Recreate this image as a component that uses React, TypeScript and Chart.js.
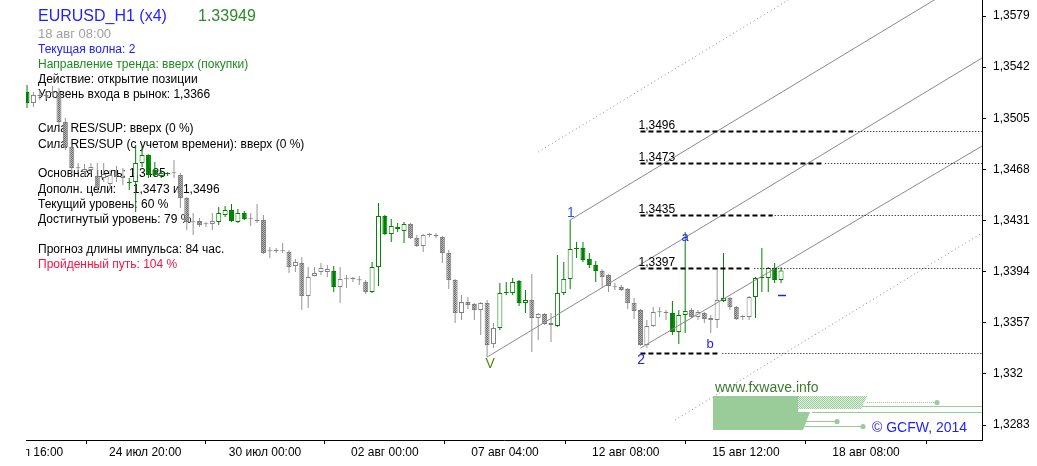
import React, { useEffect, useRef } from "react";
import { Chart, registerables } from "chart.js";

Chart.register(...registerables);

// ---------- DATA ----------
const timeLabels = ["21 июл 16:00", "24 июл 20:00", "30 июл 00:00", "02 авг 00:00", "07 авг 04:00", "12 авг 08:00", "15 авг 12:00", "18 авг 08:00"];
const timeTickBars = [0, 18.5, 37.25, 56, 74.8, 93.7, 112.5, 131.3];

const priceTicks = [1.3283, 1.332, 1.3357, 1.3394, 1.3431, 1.3468, 1.3505, 1.3542, 1.3579];
const priceTickLabels = ["1,3283", "1,332", "1,3357", "1,3394", "1,3431", "1,3468", "1,3505", "1,3542", "1,3579"];

const opens = [
  1.3524, 1.35161, 1.35219, 1.35211, 1.3524, 1.35233, 1.35023, 1.34842, 1.3469, 1.34661,
  1.34676, 1.34632, 1.34618, 1.34574, 1.34632, 1.34618, 1.34582, 1.34589, 1.34726, 1.34784,
  1.34676, 1.34632, 1.34647, 1.34654, 1.34639, 1.34473, 1.34299, 1.34307, 1.34285, 1.34285,
  1.34299, 1.3435, 1.34386, 1.34299, 1.34365, 1.34321, 1.34307, 1.34314, 1.34089, 1.34089,
  1.34089, 1.34082, 1.33981, 1.34003, 1.33764, 1.33909, 1.33938, 1.33938, 1.33945, 1.33829,
  1.33887, 1.33887, 1.3388, 1.33865, 1.33793, 1.33974, 1.34343, 1.34213, 1.34263, 1.34234,
  1.34285, 1.34184, 1.34126, 1.34205, 1.34205, 1.34191, 1.34075, 1.3388, 1.33641, 1.3372,
  1.33706, 1.33663, 1.33713, 1.33416, 1.33532, 1.33786, 1.33786, 1.33872, 1.33713, 1.33735,
  1.33605, 1.33634, 1.33568, 1.33547, 1.33786, 1.33887, 1.34104, 1.34111, 1.34032, 1.33988,
  1.33945, 1.33916, 1.33829, 1.33829, 1.33815, 1.33713, 1.33663, 1.33409, 1.33547, 1.33648,
  1.33641, 1.33641, 1.33503, 1.33626, 1.33663, 1.33612, 1.33641, 1.33605, 1.3359, 1.33728,
  1.33749, 1.33684, 1.33612, 1.33612, 1.33757, 1.33894, 1.33894, 1.33967, 1.3388,
];
const highs = [
  1.35291, 1.3524, 1.35255, 1.3524, 1.35284, 1.35269, 1.35052, 1.34857, 1.34726, 1.34719,
  1.34726, 1.34726, 1.34726, 1.34676, 1.34705, 1.3469, 1.34618, 1.34857, 1.34842, 1.3479,
  1.34734, 1.34676, 1.34661, 1.34748, 1.34654, 1.3448, 1.34365, 1.34328, 1.34299, 1.34365,
  1.34408, 1.34415, 1.3443, 1.34393, 1.34379, 1.34365, 1.3443, 1.3435, 1.34118, 1.34111,
  1.34147, 1.34097, 1.34032, 1.34046, 1.33974, 1.33974, 1.34003, 1.33988, 1.33981, 1.33974,
  1.33916, 1.33901, 1.33909, 1.3388, 1.3401, 1.34437, 1.3435, 1.34321, 1.34292, 1.34299,
  1.34292, 1.34205, 1.34213, 1.3422, 1.3422, 1.34198, 1.34097, 1.33887, 1.33771, 1.33757,
  1.33713, 1.3372, 1.33735, 1.33568, 1.33858, 1.33865, 1.33894, 1.3388, 1.33807, 1.33923,
  1.33641, 1.33641, 1.33641, 1.34061, 1.3401, 1.34314, 1.34155, 1.34155, 1.34075, 1.34017,
  1.33959, 1.33923, 1.33858, 1.33844, 1.33822, 1.33749, 1.3367, 1.3359, 1.33684, 1.33684,
  1.33663, 1.33728, 1.33663, 1.34227, 1.33677, 1.33663, 1.33648, 1.33626, 1.33967, 1.34075,
  1.33757, 1.33692, 1.33626, 1.33764, 1.33901, 1.34111, 1.33974, 1.34003, 1.33974,
];
const lows = [
  1.35124, 1.35132, 1.35182, 1.35189, 1.35204, 1.35001, 1.3482, 1.34661, 1.34661, 1.34632,
  1.34647, 1.34516, 1.34589, 1.34545, 1.34589, 1.34567, 1.34531, 1.34372, 1.34697, 1.34618,
  1.34625, 1.34618, 1.34632, 1.34618, 1.34401, 1.34242, 1.34205, 1.34263, 1.34263, 1.34242,
  1.34278, 1.34336, 1.34299, 1.34292, 1.34314, 1.3427, 1.34292, 1.34068, 1.34039, 1.34075,
  1.34075, 1.3393, 1.33938, 1.33663, 1.33677, 1.33905, 1.33916, 1.33901, 1.33793, 1.33713,
  1.33822, 1.33865, 1.33844, 1.33778, 1.33786, 1.33836, 1.34205, 1.34155, 1.34227, 1.34147,
  1.34176, 1.34118, 1.34082, 1.34191, 1.34184, 1.34003, 1.33815, 1.33568, 1.3359, 1.3367,
  1.3359, 1.33482, 1.33322, 1.33387, 1.33518, 1.33771, 1.33771, 1.33692, 1.33641, 1.33359,
  1.33445, 1.33554, 1.33431, 1.33539, 1.33771, 1.33815, 1.34039, 1.3401, 1.33967, 1.33865,
  1.33822, 1.33793, 1.33807, 1.338, 1.3367, 1.33597, 1.33402, 1.33387, 1.33539, 1.33612,
  1.3359, 1.33482, 1.33416, 1.33496, 1.33605, 1.3359, 1.33568, 1.33496, 1.33532, 1.3372,
  1.33663, 1.3359, 1.3359, 1.3359, 1.33605, 1.33793, 1.33793, 1.33858, 1.33858,
];
const closes = [
  1.35161, 1.35219, 1.35211, 1.35219, 1.35233, 1.35023, 1.34842, 1.3469, 1.34688, 1.34683,
  1.34697, 1.34545, 1.34647, 1.34639, 1.34639, 1.34625, 1.34589, 1.34726, 1.34784, 1.34639,
  1.34639, 1.34654, 1.34654, 1.34652, 1.34473, 1.34299, 1.34297, 1.34278, 1.34283, 1.34307,
  1.34365, 1.34386, 1.34307, 1.34365, 1.34321, 1.34319, 1.34314, 1.34075, 1.34087, 1.34091,
  1.34087, 1.33974, 1.3401, 1.33764, 1.33901, 1.3393, 1.33967, 1.33959, 1.33829, 1.33887,
  1.33885, 1.33889, 1.33878, 1.33793, 1.33974, 1.34343, 1.34213, 1.3427, 1.34249, 1.34285,
  1.34184, 1.34126, 1.34205, 1.34207, 1.34198, 1.34075, 1.3388, 1.33641, 1.3372, 1.33699,
  1.33663, 1.33713, 1.33409, 1.33532, 1.33786, 1.33788, 1.33865, 1.33713, 1.33735, 1.33605,
  1.33634, 1.33561, 1.33554, 1.33786, 1.33887, 1.34104, 1.34111, 1.34024, 1.33988, 1.33945,
  1.33901, 1.33836, 1.33827, 1.33807, 1.33713, 1.33655, 1.33409, 1.33547, 1.33648, 1.33646,
  1.33643, 1.33503, 1.33626, 1.33655, 1.33612, 1.33648, 1.33597, 1.3359, 1.33735, 1.33749,
  1.33684, 1.33597, 1.33614, 1.33757, 1.33894, 1.33896, 1.33967, 1.3388, 1.33949,
];
// bar-index ranges drawn in the "wave" (green) colour
const greenRanges = [[0, 0], [16, 22], [30, 34], [48, 48], [54, 59], [74, 78], [83, 89], [101, 103], [109, 109], [114, 118]];

// wave channel lines: [startBar, startPrice, endBar, endPrice]
const channelSolid = [
  [72, 1.33322, 149.45, 1.35486],
  [85, 1.34314, 149.45, 1.36115],
  [96, 1.33387, 149.45, 1.34849],
];
const channelDotted = [
  [80, 1.34806, 149.45, 1.36758],
  [101.4, 1.32866, 149.45, 1.3422],
];

// target levels
const targetPrices = [1.3496, 1.3473, 1.3435, 1.3397];
const targetLabels = ["1,3496", "1,3473", "1,3435", "1,3397"];
const targetDashEndBars = [129.3, 124.6, 116.7, 113.5];
const supportPrice = 1.33349;
const supportDashEndBar = 108.5;
const levelStartBar = 96;

// wave marks
const waveTexts = ["V", "1", "2", "a", "b"];
const waveBars = [72.5, 85.1, 96.1, 103, 106.9];
const wavePrices = [1.33272, 1.34364, 1.33301, 1.34191, 1.33416];
const markerBar = 118.15;
const markerPrice = 1.33771;

// info panel
const headerSymbol = "EURUSD_H1 (x4)";
const headerPrice = "1.33949";
const headerTime = "18 авг 08:00";
const infoLines = [
  "Текущая волна: 2",
  "Направление тренда: вверх (покупки)",
  "Действие: открытие позиции",
  "Уровень входа в рынок: 1,3366",
  "Сила RES/SUP: вверх (0 %)",
  "Сила RES/SUP (с учетом времени): вверх (0 %)",
  "Основная цель: 1,3485",
  "Дополн. цели:     1,3473 и 1,3496",
  "Текущий уровень: 60 %",
  "Достигнутый уровень: 79 %",
  "Прогноз длины импульса: 84 час.",
  "Пройденный путь: 104 %",
];
const siteText = "www.fxwave.info";
const copyrightText = "© GCFW, 2014";

// ---------- STYLE ----------
const FONT = "'Liberation Sans', Arial, sans-serif";
const GREEN = "#008000";
const GRAY = "#808080";
const infoColors = ["#2020ff", "#1e8c1e", "#000", "#000", "#000", "#000", "#000", "#000", "#000", "#000", "#000", "#ff1040"];
const infoRowY = [49.5, 64.5, 80, 95, 128.5, 144.5, 173.5, 189.5, 204.5, 219.5, 249.5, 265];

const isGreen = (i: number) => greenRanges.some(([a, b]) => i >= a && i <= b);

export default function App() {
  const ref = useRef<HTMLCanvasElement>(null);

  useEffect(() => {
    const canvas = ref.current!;
    const mk = (a: string, b: string) => {
      const pc = document.createElement("canvas");
      pc.width = 2;
      pc.height = 2;
      const p = pc.getContext("2d")!;
      p.fillStyle = b;
      p.fillRect(0, 0, 2, 2);
      p.fillStyle = a;
      p.fillRect(0, 0, 1, 1);
      p.fillRect(1, 1, 1, 1);
      return canvas.getContext("2d")!.createPattern(pc, "repeat")!;
    };
    const grayPattern = mk("#6e6e6e", "#b4b4b4");
    const logoPattern = mk("#99cc99", "#e4f2e4");

    const lineColor = (i: number) => (isGreen(i) ? GREEN : GRAY);
    const bodyFill = (i: number) => {
      const o = opens[i], c = closes[i];
      if (Math.abs(c - o) < 0.00004) return lineColor(i);
      if (c >= o) return "#ffffff";
      return isGreen(i) ? GREEN : grayPattern;
    };

    const infoPlugin = {
      id: "info",
      beforeDatasetsDraw(chart: any) {
        const ctx = chart.ctx as CanvasRenderingContext2D;
        ctx.save();
        ctx.textBaseline = "middle";
        ctx.textAlign = "left";
        ctx.font = `16px ${FONT}`;
        ctx.fillStyle = "#1f1fff";
        ctx.fillText(headerSymbol, 12, 16.5);
        ctx.fillStyle = "#2a8a2a";
        ctx.fillText(headerPrice, 172, 16.5);
        ctx.font = `13px ${FONT}`;
        ctx.fillStyle = "#a0a0a0";
        ctx.fillText(headerTime, 12, 34.5);
        ctx.font = `12px ${FONT}`;
        infoLines.forEach((t, k) => {
          ctx.fillStyle = infoColors[k];
          ctx.fillText(t, 12, infoRowY[k]);
        });
        ctx.restore();
      },
    };

    const annoPlugin = {
      id: "anno",
      afterDatasetsDraw(chart: any) {
        const ctx = chart.ctx as CanvasRenderingContext2D;
        const ca = chart.chartArea;
        const xs = chart.scales.x;
        const ys = chart.scales.y;
        const X = (v: number) => xs.getPixelForValue(v);
        const Y = (v: number) => ys.getPixelForValue(v);
        ctx.save();
        ctx.beginPath();
        ctx.rect(ca.left, ca.top, ca.right - ca.left, ca.bottom - ca.top);
        ctx.clip();

        ctx.strokeStyle = "#8a8a8a";
        ctx.lineWidth = 1;
        const seg = (l: number[]) => {
          ctx.beginPath();
          ctx.moveTo(X(l[0]), Y(l[1]));
          ctx.lineTo(X(l[2]), Y(l[3]));
          ctx.stroke();
        };
        ctx.setLineDash([]);
        channelSolid.forEach(seg);
        ctx.setLineDash([1, 3]);
        channelDotted.forEach(seg);

        const level = (price: number, endBar: number, label?: string) => {
          const py = Math.round(Y(price)) + 0.5;
          const x0 = X(levelStartBar);
          const x1 = X(endBar);
          ctx.strokeStyle = "#000";
          ctx.lineWidth = 2;
          ctx.setLineDash([5, 3]);
          ctx.beginPath();
          ctx.moveTo(x0, py);
          ctx.lineTo(x1, py);
          ctx.stroke();
          ctx.lineWidth = 1;
          ctx.setLineDash([1, 2]);
          ctx.beginPath();
          ctx.moveTo(x1 + 2, py);
          ctx.lineTo(ca.right, py);
          ctx.stroke();
          if (label) {
            ctx.setLineDash([]);
            ctx.fillStyle = "#000";
            ctx.font = `12px ${FONT}`;
            ctx.textAlign = "left";
            ctx.textBaseline = "alphabetic";
            ctx.fillText(label, x0 - 2, py - 3);
          }
        };
        targetPrices.forEach((p, k) => level(p, targetDashEndBars[k], targetLabels[k]));
        level(supportPrice, supportDashEndBar);

        ctx.setLineDash([]);
        ctx.textAlign = "center";
        ctx.textBaseline = "middle";
        waveTexts.forEach((t, k) => {
          ctx.font = `${k < 3 ? 14 : 13}px ${FONT}`;
          ctx.fillStyle = k === 0 ? "#4f8a10" : k === 1 ? "#3355ee" : "#2020ff";
          ctx.fillText(t, X(waveBars[k]), Y(wavePrices[k]));
        });
        ctx.strokeStyle = "#2020ff";
        ctx.lineWidth = 1.5;
        const mx = X(markerBar);
        const my = Math.round(Y(markerPrice)) + 0.5;
        ctx.beginPath();
        ctx.moveTo(mx - 4, my);
        ctx.lineTo(mx + 4, my);
        ctx.stroke();
        ctx.restore();
      },
      afterDraw(chart: any) {
        const ctx = chart.ctx as CanvasRenderingContext2D;
        const ca = chart.chartArea;
        const R = ca.right;
        ctx.save();
        ctx.fillStyle = "#99cc99";
        ctx.beginPath();
        ctx.moveTo(687, 396);
        ctx.lineTo(772, 396);
        ctx.lineTo(772, 412);
        ctx.lineTo(784, 412);
        ctx.lineTo(777, 430);
        ctx.lineTo(687, 430);
        ctx.closePath();
        ctx.fill();
        ctx.fillStyle = logoPattern;
        ctx.beginPath();
        ctx.moveTo(772, 396);
        ctx.lineTo(841, 396);
        ctx.lineTo(835, 409);
        ctx.lineTo(772, 409);
        ctx.closePath();
        ctx.fill();
        ctx.strokeStyle = "#99cc99";
        ctx.lineWidth = 1;
        const hl = (x0: number, x1: number, y: number, dash: number[]) => {
          ctx.setLineDash(dash);
          ctx.beginPath();
          ctx.moveTo(x0, y);
          ctx.lineTo(x1, y);
          ctx.stroke();
        };
        hl(841, 911, 402.5, [1, 1]);
        hl(836, R, 406.5, []);
        hl(786, R, 412.5, []);
        hl(779, 811, 421.5, []);
        hl(777, 837, 426.5, []);
        ctx.setLineDash([]);
        ctx.fillStyle = "#99cc99";
        [[911, 402.5], [811, 421.5], [837, 426.5]].forEach(([cx, cy]) => {
          ctx.beginPath();
          ctx.arc(cx, cy, 2.6, 0, Math.PI * 2);
          ctx.fill();
        });
        ctx.textAlign = "left";
        ctx.textBaseline = "middle";
        ctx.font = `14px ${FONT}`;
        ctx.fillStyle = "#3d7a2f";
        ctx.fillText(siteText, 689, 388);
        ctx.fillStyle = "#1f1fff";
        ctx.fillText(copyrightText, 846, 428);
        ctx.restore();
      },
    };

    const chart = new Chart(canvas, {
      type: "bar",
      data: {
        datasets: [
          {
            label: "body",
            data: opens.map((o, i) => ({ x: i, y: [o, closes[i]] })) as any,
            order: 0,
            grouped: false,
            barThickness: 5,
            borderWidth: 1,
            borderSkipped: false,
            minBarLength: 1,
            inflateAmount: 0,
            backgroundColor: (c: any) => (c.dataIndex === undefined ? GRAY : bodyFill(c.dataIndex)),
            borderColor: (c: any) => (c.dataIndex === undefined ? GRAY : lineColor(c.dataIndex)),
          } as any,
          {
            label: "wick",
            data: lows.map((l, i) => ({ x: i, y: [l, highs[i]] })) as any,
            order: 1,
            grouped: false,
            barThickness: 1,
            borderWidth: 0,
            inflateAmount: 0,
            backgroundColor: (c: any) =>
              c.dataIndex === undefined ? GRAY : isGreen(c.dataIndex) ? GREEN : "#949494",
          } as any,
        ],
      },
      options: {
        responsive: false,
        animation: false,
        devicePixelRatio: 1,
        layout: { padding: 0 },
        events: [],
        plugins: { legend: { display: false }, tooltip: { enabled: false }, title: { display: false } },
        scales: {
          x: {
            type: "linear",
            position: "bottom",
            min: -0.16,
            max: 149.45,
            offset: false,
            bounds: "data",
            grid: { display: true, drawOnChartArea: false, drawTicks: true, tickLength: 4, color: "#000", tickColor: "#000" },
            border: { display: true, color: "#000", width: 1 },
            ticks: {
              autoSkip: false,
              maxRotation: 0,
              minRotation: 0,
              padding: 1,
              color: "#000",
              font: { family: FONT, size: 12 },
              callback: (_v: any, idx: number) => timeLabels[idx],
            },
            afterBuildTicks: (s: any) => {
              s.ticks = timeTickBars.map((v) => ({ value: v }));
            },
            afterFit: (s: any) => {
              s.height = 26;
              s.paddingLeft = 0;
              s.paddingRight = 0;
            },
          },
          y: {
            type: "linear",
            position: "right",
            min: 1.32722,
            max: 1.35906,
            bounds: "data",
            grid: { display: true, drawOnChartArea: false, drawTicks: true, tickLength: 4, color: "#000", tickColor: "#000" },
            border: { display: true, color: "#000", width: 1 },
            ticks: {
              padding: 7,
              color: "#000",
              font: { family: FONT, size: 12 },
              callback: (_v: any, idx: number) => priceTickLabels[idx],
            },
            afterBuildTicks: (s: any) => {
              s.ticks = priceTicks.map((v) => ({ value: v }));
            },
            afterFit: (s: any) => {
              s.width = 55;
              s.paddingTop = 0;
              s.paddingBottom = 0;
            },
          },
        },
      } as any,
      plugins: [infoPlugin, annoPlugin],
    });
    return () => chart.destroy();
  }, []);

  return (
    <div style={{ position: "absolute", left: 26, top: 0, width: 1011, height: 466, background: "#fff" }}>
      <canvas ref={ref} width={1011} height={466} style={{ display: "block", width: 1011, height: 466 }} />
    </div>
  );
}
